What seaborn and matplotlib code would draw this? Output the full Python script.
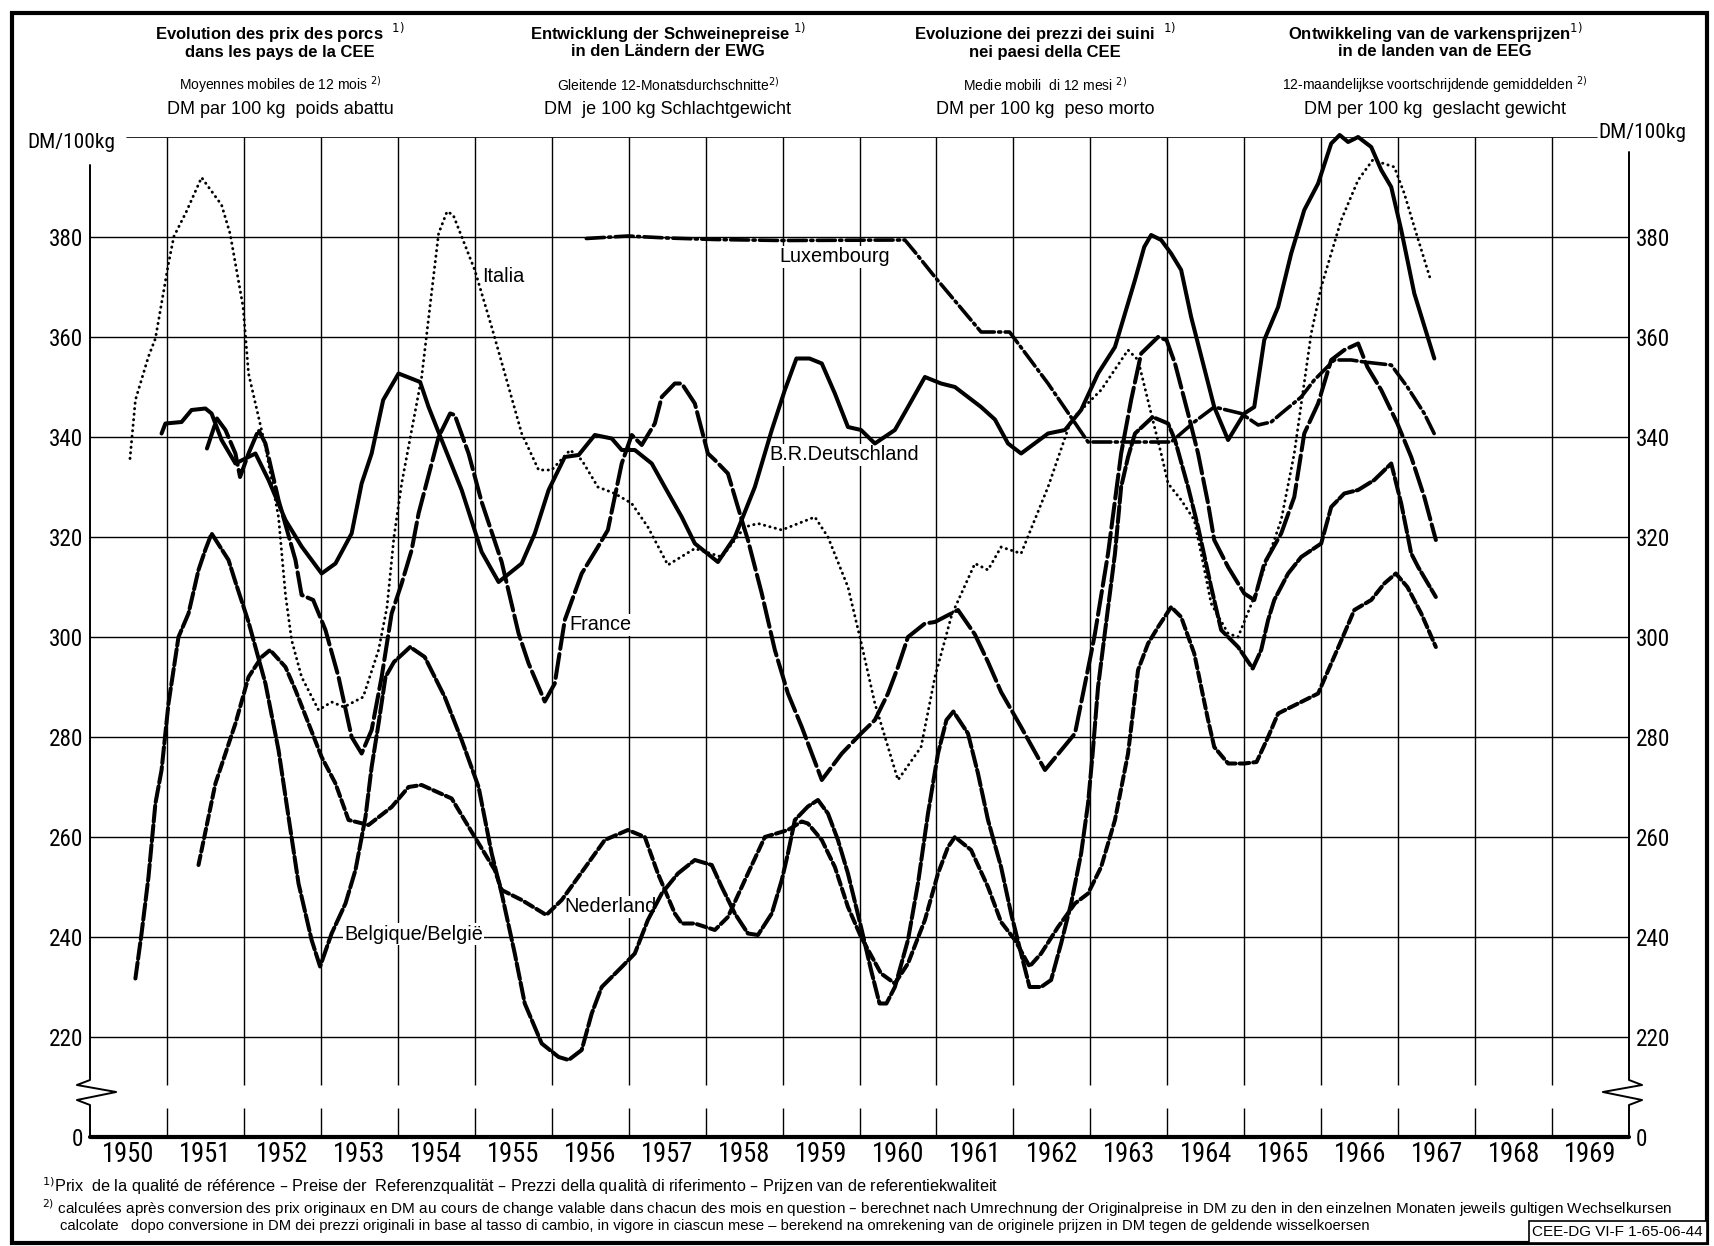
import matplotlib
matplotlib.use("Agg")
import matplotlib.pyplot as plt
import seaborn as sns
import numpy as np
from matplotlib import font_manager as fm
from matplotlib.patches import Rectangle

# 12-month moving averages, DM per 100 kg (time in fractional years)
italia_t = [1950.52, 1950.59, 1950.76, 1950.85, 1951.02, 1951.09, 1951.25, 1951.45, 1951.71, 1951.82,
            1951.99, 1952.06, 1952.28, 1952.45, 1952.54, 1952.62, 1952.75, 1952.97, 1953.14, 1953.30,
            1953.55, 1953.75, 1953.86, 1953.95, 1954.05, 1954.31, 1954.53, 1954.64, 1954.72, 1955.00,
            1955.22, 1955.44, 1955.61, 1955.83, 1956.00, 1956.24, 1956.39, 1956.60, 1956.82, 1957.04,
            1957.25, 1957.51, 1957.86, 1958.21, 1958.51, 1958.68, 1958.99, 1959.42, 1959.59, 1959.85,
            1960.02, 1960.20, 1960.50, 1960.80, 1960.98, 1961.20, 1961.50, 1961.67, 1961.84, 1962.10,
            1962.45, 1962.75, 1963.14, 1963.49, 1963.62, 1963.79, 1963.92, 1964.01, 1964.18, 1964.35,
            1964.44, 1964.57, 1964.79, 1964.92, 1965.13, 1965.48, 1965.65, 1965.87, 1966.00, 1966.26,
            1966.48, 1966.67, 1966.95, 1967.08, 1967.21, 1967.41]
italia_v = [335.7, 347.4, 356.1, 359.7, 374.7, 380.1, 385.0, 391.9, 386.4, 380.7,
            366.0, 352.7, 338.0, 324.0, 308.5, 299.4, 292.0, 285.4, 287.0, 286.0,
            288.0, 297.4, 306.0, 320.0, 330.7, 352.0, 380.7, 385.1, 384.4, 373.4,
            362.0, 350.0, 340.7, 333.4, 333.4, 337.4, 335.4, 330.0, 328.7, 326.7,
            322.0, 314.4, 317.7, 316.0, 322.0, 322.7, 321.4, 324.0, 320.0, 310.0,
            299.0, 286.7, 271.4, 278.0, 292.0, 304.5, 314.7, 313.4, 318.0, 316.7,
            330.0, 343.4, 349.4, 357.4, 355.4, 344.7, 336.7, 330.7, 327.4, 323.4,
            316.7, 306.7, 300.7, 300.0, 308.0, 323.4, 336.7, 360.7, 370.0, 383.4,
            391.4, 395.4, 394.0, 388.7, 382.0, 372.0]

de_t = [1950.93, 1950.98, 1951.19, 1951.32, 1951.50, 1951.58, 1951.71, 1951.89, 1952.15, 1952.32,
        1952.54, 1952.75, 1953.01, 1953.19, 1953.40, 1953.53, 1953.66, 1953.81, 1954.01, 1954.29,
        1954.40, 1954.57, 1954.83, 1955.09, 1955.31, 1955.61, 1955.78, 1955.96, 1956.17, 1956.35,
        1956.56, 1956.78, 1956.91, 1957.08, 1957.30, 1957.47, 1957.69, 1957.86, 1958.16, 1958.38,
        1958.64, 1958.86, 1959.03, 1959.18, 1959.35, 1959.51, 1959.68, 1959.85, 1960.02, 1960.20,
        1960.46, 1960.63, 1960.85, 1961.06, 1961.24, 1961.58, 1961.76, 1961.93, 1962.10, 1962.45,
        1962.67, 1962.88, 1963.10, 1963.32, 1963.58, 1963.70, 1963.79, 1963.92, 1964.05, 1964.18,
        1964.31, 1964.61, 1964.79, 1965.00, 1965.13, 1965.26, 1965.44, 1965.61, 1965.78, 1965.96,
        1966.13, 1966.24, 1966.35, 1966.48, 1966.65, 1966.78, 1966.91, 1967.04, 1967.21, 1967.47]
de_v = [340.7, 342.7, 343.0, 345.4, 345.7, 344.7, 339.4, 334.7, 336.7, 331.4,
        323.4, 318.1, 312.7, 314.7, 320.7, 330.7, 336.7, 347.4, 352.7, 351.0,
        346.0, 339.4, 329.4, 317.0, 311.0, 314.7, 320.7, 329.4, 336.0, 336.4,
        340.4, 339.7, 337.4, 337.4, 334.7, 330.0, 324.0, 318.7, 315.0, 320.0,
        330.0, 341.4, 349.4, 355.7, 355.7, 354.7, 348.7, 342.0, 341.4, 338.7,
        341.4, 346.0, 352.0, 350.7, 350.0, 346.0, 343.5, 338.7, 336.7, 340.7,
        341.4, 345.4, 352.7, 358.0, 371.4, 378.0, 380.4, 379.4, 376.7, 373.4,
        364.0, 346.0, 339.4, 344.7, 346.0, 359.4, 366.0, 376.7, 385.4, 390.7,
        398.7, 400.4, 399.0, 400.0, 398.0, 393.4, 390.0, 381.4, 368.7, 355.7]

lux_t = [1956.45, 1956.99, 1957.50, 1958.12, 1958.99, 1960.59, 1960.72, 1960.98, 1961.58, 1961.95,
         1962.45, 1962.97, 1964.05, 1964.35, 1964.61, 1964.96, 1965.18, 1965.35, 1965.48, 1965.74,
         1965.91, 1966.17, 1966.39, 1966.56, 1966.91, 1967.12, 1967.34, 1967.49]
lux_v = [379.7, 380.2, 379.8, 379.5, 379.3, 379.4, 377.0, 372.0, 361.0, 361.0,
         350.7, 339.0, 339.0, 343.0, 346.0, 344.7, 342.4, 343.0, 344.7, 348.0,
         351.4, 355.4, 355.4, 355.0, 354.4, 350.0, 344.7, 340.0]

fr_t = [1951.52, 1951.65, 1951.76, 1951.89, 1951.95, 1952.06, 1952.19, 1952.28, 1952.45, 1952.67,
        1952.75, 1952.90, 1953.06, 1953.23, 1953.40, 1953.53, 1953.66, 1953.79, 1953.92, 1954.05,
        1954.18, 1954.27, 1954.53, 1954.68, 1954.74, 1954.92, 1955.09, 1955.35, 1955.57, 1955.70,
        1955.91, 1956.04, 1956.17, 1956.39, 1956.60, 1956.73, 1956.91, 1957.04, 1957.17, 1957.34,
        1957.43, 1957.60, 1957.69, 1957.86, 1958.03, 1958.12, 1958.29, 1958.47, 1958.55, 1958.73,
        1958.90, 1959.07, 1959.25, 1959.51, 1959.77, 1960.02, 1960.20, 1960.37, 1960.50, 1960.63,
        1960.85, 1960.98, 1961.28, 1961.50, 1961.67, 1961.84, 1962.10, 1962.41, 1962.80, 1963.01,
        1963.06, 1963.23, 1963.40, 1963.53, 1963.66, 1963.88, 1963.99, 1964.10, 1964.27, 1964.40,
        1964.53, 1964.61, 1964.79, 1965.00, 1965.13, 1965.26, 1965.48, 1965.65, 1965.78, 1965.96,
        1966.13, 1966.30, 1966.48, 1966.60, 1966.78, 1966.99, 1967.17, 1967.34, 1967.49]
fr_v = [337.7, 343.7, 341.4, 336.7, 332.0, 336.7, 341.4, 338.7, 327.4, 315.4,
        308.4, 307.4, 301.4, 292.0, 280.0, 276.7, 281.4, 292.0, 304.7, 310.7,
        317.4, 324.7, 340.0, 344.7, 344.4, 336.7, 327.0, 315.0, 300.7, 294.7,
        287.1, 290.7, 303.4, 312.7, 318.0, 321.4, 334.7, 340.4, 338.4, 342.7,
        348.0, 350.7, 350.7, 346.7, 336.7, 335.4, 332.7, 323.4, 319.4, 308.7,
        297.4, 288.7, 282.0, 271.4, 276.7, 280.7, 283.4, 288.7, 294.0, 300.0,
        302.7, 303.0, 305.4, 300.5, 295.0, 289.0, 282.0, 273.4, 280.7, 296.7,
        300.7, 316.7, 336.7, 347.4, 356.7, 360.0, 359.4, 354.7, 344.7, 336.7,
        326.7, 319.4, 314.0, 308.7, 307.4, 314.7, 320.7, 328.0, 340.7, 346.7,
        355.4, 357.4, 358.7, 354.0, 349.4, 342.7, 336.0, 328.0, 319.4]

be_t = [1950.59, 1950.67, 1950.76, 1950.85, 1950.93, 1951.02, 1951.15, 1951.28, 1951.41, 1951.50,
        1951.58, 1951.80, 1951.89, 1952.06, 1952.28, 1952.45, 1952.58, 1952.71, 1952.88, 1952.99,
        1953.14, 1953.32, 1953.45, 1953.58, 1953.66, 1953.75, 1953.84, 1953.95, 1954.16, 1954.35,
        1954.61, 1954.83, 1955.05, 1955.22, 1955.35, 1955.52, 1955.65, 1955.87, 1956.09, 1956.22,
        1956.39, 1956.52, 1956.65, 1956.91, 1957.08, 1957.25, 1957.43, 1957.64, 1957.86, 1958.08,
        1958.21, 1958.38, 1958.55, 1958.68, 1958.86, 1958.99, 1959.07, 1959.16, 1959.33, 1959.46,
        1959.59, 1959.72, 1959.85, 1960.02, 1960.15, 1960.26, 1960.35, 1960.46, 1960.63, 1960.76,
        1960.89, 1961.02, 1961.13, 1961.22, 1961.41, 1961.54, 1961.67, 1961.84, 1961.97, 1962.10,
        1962.21, 1962.36, 1962.49, 1962.62, 1962.75, 1962.88, 1962.97, 1963.03, 1963.10, 1963.19,
        1963.32, 1963.40, 1963.49, 1963.58, 1963.81, 1964.01, 1964.10, 1964.27, 1964.40, 1964.57,
        1964.70, 1964.92, 1965.11, 1965.22, 1965.31, 1965.39, 1965.57, 1965.74, 1966.00, 1966.13,
        1966.30, 1966.48, 1966.69, 1966.91, 1967.04, 1967.17, 1967.26, 1967.49]
be_v = [231.7, 240.7, 252.0, 266.7, 273.4, 286.7, 300.0, 304.7, 313.4, 317.5,
        320.7, 315.4, 311.0, 303.0, 290.7, 277.4, 264.0, 250.7, 239.4, 234.1,
        240.7, 246.7, 253.4, 264.0, 274.0, 282.7, 292.0, 295.0, 298.0, 296.0,
        288.0, 279.4, 270.0, 256.7, 248.7, 236.7, 226.7, 218.7, 216.0, 215.4,
        217.4, 224.7, 230.0, 234.0, 236.7, 243.4, 248.7, 252.7, 255.4, 254.4,
        250.0, 244.7, 240.7, 240.4, 244.7, 251.4, 256.7, 263.4, 266.1, 267.4,
        264.7, 259.4, 252.7, 242.0, 233.4, 226.7, 226.7, 230.0, 239.4, 250.7,
        264.7, 276.7, 283.4, 285.1, 280.7, 272.7, 263.4, 254.0, 244.7, 236.7,
        230.0, 230.0, 231.4, 238.7, 246.7, 256.7, 266.7, 276.7, 290.0, 301.0,
        316.7, 330.0, 336.0, 340.7, 344.0, 342.7, 339.4, 330.0, 322.0, 310.0,
        301.4, 298.0, 293.7, 297.4, 303.4, 307.4, 312.7, 316.0, 318.7, 326.0,
        328.7, 329.4, 331.4, 334.7, 326.7, 316.7, 314.0, 308.0]

nl_t = [1951.41, 1951.63, 1951.89, 1952.06, 1952.23, 1952.34, 1952.54, 1952.67, 1952.84, 1953.01,
        1953.19, 1953.36, 1953.62, 1953.92, 1954.14, 1954.31, 1954.70, 1955.00, 1955.26, 1955.35,
        1955.61, 1955.93, 1956.13, 1956.35, 1956.69, 1956.99, 1957.21, 1957.38, 1957.60, 1957.69,
        1957.86, 1958.12, 1958.29, 1958.55, 1958.77, 1959.07, 1959.25, 1959.33, 1959.51, 1959.68,
        1959.85, 1960.02, 1960.28, 1960.46, 1960.63, 1960.85, 1961.02, 1961.15, 1961.24, 1961.45,
        1961.67, 1961.84, 1962.02, 1962.21, 1962.36, 1962.58, 1962.80, 1962.97, 1963.14, 1963.32,
        1963.49, 1963.62, 1963.75, 1963.88, 1964.05, 1964.18, 1964.35, 1964.53, 1964.61, 1964.79,
        1965.00, 1965.16, 1965.31, 1965.44, 1965.70, 1965.96, 1966.13, 1966.30, 1966.43, 1966.65,
        1966.82, 1966.97, 1967.12, 1967.30, 1967.49]
nl_v = [254.4, 270.7, 282.7, 292.0, 296.0, 297.4, 294.0, 289.4, 282.7, 276.0,
        270.7, 263.4, 262.4, 266.0, 270.0, 270.4, 267.7, 260.0, 253.4, 249.4,
        247.4, 244.4, 247.4, 252.1, 259.4, 261.4, 260.0, 252.7, 244.7, 242.7,
        242.7, 241.4, 244.0, 252.7, 260.0, 261.4, 263.1, 262.7, 259.4, 254.0,
        246.0, 240.0, 232.7, 230.7, 234.7, 243.4, 252.7, 258.0, 260.0, 257.4,
        250.0, 243.0, 239.4, 234.1, 236.7, 242.0, 246.7, 248.7, 254.0, 263.4,
        276.7, 293.4, 298.7, 302.0, 306.0, 304.0, 296.7, 283.4, 278.0, 274.7,
        274.7, 275.0, 280.0, 284.7, 286.7, 288.7, 294.7, 300.7, 305.4, 307.4,
        310.7, 312.7, 310.0, 304.7, 298.0]

years = np.arange(1950, 1970)
grid_vals = np.arange(220, 400, 20)

W, H = 1714, 1246
def fx(px): return px / W
def fy(py): return 1 - py / H

sns.set_theme(style="white")
plt.rcParams["font.family"] = ["Liberation Sans", "DejaVu Sans"]
plt.rcParams["text.color"] = "black"
plt.rcParams["xtick.color"] = "black"
plt.rcParams["ytick.color"] = "black"

# the original numbers are drawn in a narrow stencil face: use a condensed font if one exists
prefs = ["Liberation Sans Narrow", "Roboto Condensed", "Noto Sans Condensed", "Open Sans Condensed",
         "DejaVu Sans Condensed"]
cands = [f for f in fm.fontManager.ttflist
         if f.style == "normal" and f.weight in (400, "normal", "regular")
         and (f.stretch in ("condensed", "semi-condensed", "extra-condensed")
              or "Narrow" in f.name or "Condensed" in f.name)]
cands.sort(key=lambda f: prefs.index(f.name) if f.name in prefs else len(prefs))
num_fp = fm.FontProperties(fname=cands[0].fname) if cands else fm.FontProperties(family="Liberation Sans")

fig = plt.figure(figsize=(W / 100, H / 100), dpi=100)
renderer = fig.canvas.get_renderer()

def fit_size(text, target_px):
    probe = fig.text(0, 0, text, fontproperties=num_fp, fontsize=10)
    w = probe.get_window_extent(renderer=renderer).width
    probe.remove()
    return 10 * target_px / w

ax = fig.add_axes([fx(90), fy(1137), fx(1629) - fx(90), fy(137) - fy(1137)])
for sp in ax.spines.values():
    sp.set_visible(False)

# grid: horizontal lines and vertical year lines, with a gap at the axis break
ax.hlines(grid_vals, 1950, 1970, color="black", lw=1.0, zorder=1)
ax.vlines(years[1:], 210.4, 400, color="black", lw=1.0, zorder=1)
ax.vlines(years[1:], 200, 205.8, color="black", lw=1.0, zorder=1)
ax.axhline(400, xmin=0.024, xmax=0.979, color="black", lw=1.2, zorder=1)
ax.axhline(200, color="black", lw=3.0, zorder=2, clip_on=False)

def axis_with_break(x, top, out):
    dx = 0.17 * out
    ax.plot([x, x, x + dx, x - 2 * dx, x + dx, x, x],
            [top, 211.4, 210.4, 209.0, 207.4, 206.4, 200],
            color="black", lw=1.4, clip_on=False, zorder=2)

axis_with_break(1950, 394.4, -1)
axis_with_break(1970, 397.0, 1)

series = [
    (italia_t, italia_v, 2.1, (0, (0.1, 1.8))),
    (de_t, de_v, 2.9, "-"),
    (lux_t, lux_v, 2.6, (0, (5, 1.2, 0.6, 1.2))),
    (fr_t, fr_v, 2.9, (0, (6, 1.3))),
    (be_t, be_v, 2.9, (0, (4, 0.9))),
    (nl_t, nl_v, 2.9, (0, (2.4, 1.0))),
]
for t, v, lw, ls in series:
    sns.lineplot(x=t, y=v, ax=ax, color="black", linewidth=lw, linestyle=ls,
                 estimator=None, sort=False, dash_capstyle="round",
                 clip_on=False, zorder=4)

ax.set_xlim(1950, 1970)
ax.set_ylim(200, 400)
ax.set_xlabel("")
ax.set_ylabel("")

ax.set_yticks([200] + list(grid_vals))
ax.set_yticklabels(["0"] + [str(v) for v in grid_vals])
ax.tick_params(axis="y", length=0, pad=5, labelleft=True, labelright=True)
ax.set_xticks(years + 0.5)
ax.set_xticklabels([str(y) for y in years])
ax.tick_params(axis="x", length=0, pad=3)

ysize = fit_size("380", 34)
xsize = fit_size("1950", 52)
for tk in ax.yaxis.get_major_ticks():
    for lab in (tk.label1, tk.label2):
        lab.set_fontproperties(num_fp)
        lab.set_fontsize(ysize)
for tk in ax.xaxis.get_major_ticks():
    tk.label1.set_fontproperties(num_fp)
    tk.label1.set_fontsize(xsize)

# country labels
labels = [("Italia", 1955.1, 372.0), ("Luxembourg", 1958.96, 376.0),
          ("B.R.Deutschland", 1958.83, 336.4), ("France", 1956.23, 302.4),
          ("Nederland", 1956.17, 246.0), ("Belgique/België", 1953.3, 240.6)]
for name, lx, ly in labels:
    ax.text(lx, ly, name, fontsize=14.3, ha="left", va="center", zorder=3,
            bbox=dict(fc="white", ec="none", pad=1.0))

usize = fit_size("DM/100kg", 88)
fig.text(fx(27), fy(142), "DM/100kg", fontproperties=num_fp, fontsize=usize, ha="left", va="center")
fig.text(fx(1598), fy(132), "DM/100kg", fontproperties=num_fp, fontsize=usize, ha="left", va="center")

# four-language heading
title_x = [280, 668, 1045, 1435]
title_lines = [
    ["Evolution des prix des porcs  $^{1)}$", "dans les pays de la CEE",
     "Moyennes mobiles de 12 mois $^{2)}$", "DM par 100 kg  poids abattu"],
    ["Entwicklung der Schweinepreise $^{1)}$", "in den Ländern der EWG",
     "Gleitende 12-Monatsdurchschnitte$^{2)}$", "DM  je 100 kg Schlachtgewicht"],
    ["Evoluzione dei prezzi dei suini  $^{1)}$", "nei paesi della CEE",
     "Medie mobili  di 12 mesi $^{2)}$", "DM per 100 kg  peso morto"],
    ["Ontwikkeling van de varkensprijzen$^{1)}$", "in de landen van de EEG",
     "12-maandelijkse voortschrijdende gemiddelden $^{2)}$", "DM per 100 kg  geslacht gewicht"],
]
line_y = [33, 52, 85, 109]
line_kw = [dict(fontsize=12, fontweight="bold"), dict(fontsize=12, fontweight="bold"),
           dict(fontsize=10), dict(fontsize=13)]
for cx, lines in zip(title_x, title_lines):
    for txt, ly, kw in zip(lines, line_y, line_kw):
        fig.text(fx(cx), fy(ly), txt, ha="center", va="center", **kw)

notes = [
    (42, 1186, 11.7, "$^{1)}$Prix  de la qualité de référence – Preise der  Referenzqualität – "
                     "Prezzi della qualità di riferimento – Prijzen van de referentiekwaliteit"),
    (42, 1208, 11, "$^{2)}$ calculées après conversion des prix originaux en DM au cours de change valable "
                   "dans chacun des mois en question – berechnet nach Umrechnung der Originalpreise in DM "
                   "zu den in den einzelnen Monaten jeweils gultigen Wechselkursen"),
    (60, 1226, 10.6, "calcolate   dopo conversione in DM dei prezzi originali in base al tasso di cambio, "
                     "in vigore in ciascun mese – berekend na omrekening van de originele prijzen in DM "
                     "tegen de geldende wisselkoersen"),
]
for nx, ny, size, txt in notes:
    fig.text(fx(nx), fy(ny), txt, ha="left", va="center", fontsize=size)

fig.text(fx(1703), fy(1232), "CEE-DG VI-F 1-65-06-44", ha="right", va="center", fontsize=11,
         bbox=dict(boxstyle="square,pad=0.25", fc="white", ec="black", lw=1.2))

fig.add_artist(Rectangle((fx(12), fy(1243)), fx(1707) - fx(12), fy(13) - fy(1243),
                         fill=False, ec="black", lw=3, transform=fig.transFigure))

fig.savefig("out.png", dpi=100)
